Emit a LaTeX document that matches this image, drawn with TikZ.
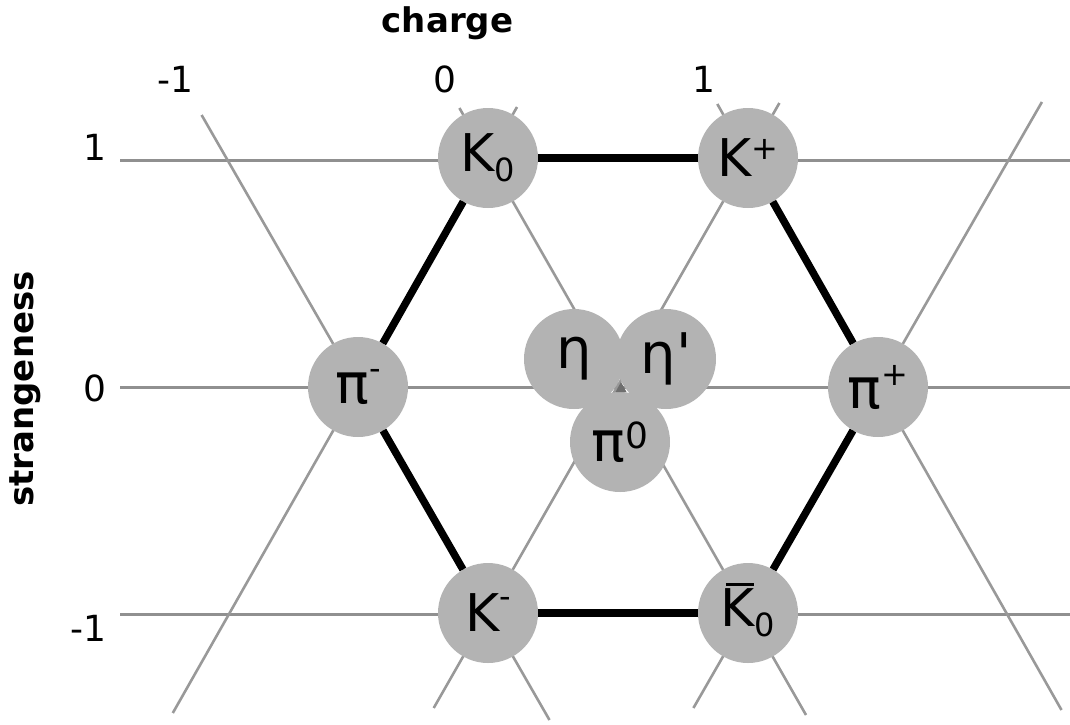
\documentclass[tikz,border=0pt]{standalone}
\usepackage{fontspec}
\setmainfont{DejaVu Sans}
\usetikzlibrary{calc}

\definecolor{ballgray}{HTML}{B3B3B3}
\definecolor{gridgray}{HTML}{999999}
\definecolor{axisgray}{HTML}{909090}
\definecolor{markgray}{HTML}{6E6E6E}

\newcommand\fs[1]{\fontsize{#1}{#1}\selectfont}
% lowered index and raised charge sign for the particle names
\newcommand\lowidx[1]{\raisebox{-10pt}{\fs{32}#1}}
\newcommand\chg[2]{\raisebox{#1}{\fs{32}#2}}
% K with a bar over it
\newcommand\antiK{\leavevmode\rlap{\smash{\kern5pt\rule[41pt]{28pt}{3pt}}}K}

\tikzset{
  particle/.style={circle, fill=ballgray, minimum size=100pt, inner sep=0pt, font=\fs{52}},
  greek/.style={particle, font=\fs{56}},
  lattice/.style={draw=gridgray, line width=2.6pt},
  level/.style={draw=axisgray, line width=3pt},
  octet/.style={draw=black, line width=7.5pt},
  ticklabel/.style={font=\fs{36}, inner sep=0pt},
  axistitle/.style={font=\fs{34}\bfseries, inner sep=0pt}
}

\begin{document}
\begin{tikzpicture}[x=1pt, y=-1pt]
\useasboundingbox (0,0) rectangle (1070,724);

% strangeness levels
\draw[level] (120,160) -- (1070,160);
\draw[level] (120,387) -- (1070,387);
\draw[level] (120,614) -- (1070,614);

% lines of constant charge
\draw[lattice] (201.6,115) -- (549.5,720);
\draw[lattice] (459.4,108) -- (806,715);
\draw[lattice] (717.3,104) -- (1061.5,710);
% the other lattice direction
\draw[lattice] (517,107) -- (172.8,713);
\draw[lattice] (779.4,103) -- (433.7,708);
\draw[lattice] (1041.9,102) -- (693.4,708);

% axis titles and values
\node[axistitle, anchor=base] (qtitle) at (447.5,32) {charge};
\node[axistitle, anchor=base, rotate=90] (stitle) at (33,389) {strangeness};

\node[ticklabel, anchor=base] (qm) at (175,92) {-1};
\node[ticklabel, anchor=base] (qz) at (445,92) {0};
\node[ticklabel, anchor=base] (qp) at (704,92) {1};

\node[ticklabel, anchor=base east] (sp) at (107,160) {1};
\node[ticklabel, anchor=base east] (sz) at (107,401) {0};
\node[ticklabel, anchor=base east] (sm) at (107,641) {-1};

% mesons
\node[particle] (K0)  at (488,158) {K\lowidx{0}};
\node[particle] (Kp)  at (748,158) {K\chg{17pt}{+}};
\node[greek]    (pim) at (358,387) {π\chg{24pt}{-}};
\node[greek]    (pip) at (878,387) {π\chg{23pt}{+}};
\node[particle] (Km)  at (488,613) {K\chg{24pt}{-}};
\node[particle] (Kb0) at (748,613) {\antiK\lowidx{0}};
\node[greek]    (eta)  at (574,359) {η};
\node[greek]    (etap) at (666,359) {η\textquotesingle};
\node[greek]    (pi0)  at (620,442) {π\raisebox{13pt}{\fs{36}0}};

% centre mark
\fill[markgray] (615.5,392) -- (626.5,392) -- (621,382) -- cycle;

% hexagon of the octet
\draw[octet] (K0) -- (Kp);
\draw[octet] (Kp) -- (pip);
\draw[octet] (pip) -- (Kb0);
\draw[octet] (Kb0) -- (Km);
\draw[octet] (Km) -- (pim);
\draw[octet] (pim) -- (K0);
\end{tikzpicture}
\end{document}
